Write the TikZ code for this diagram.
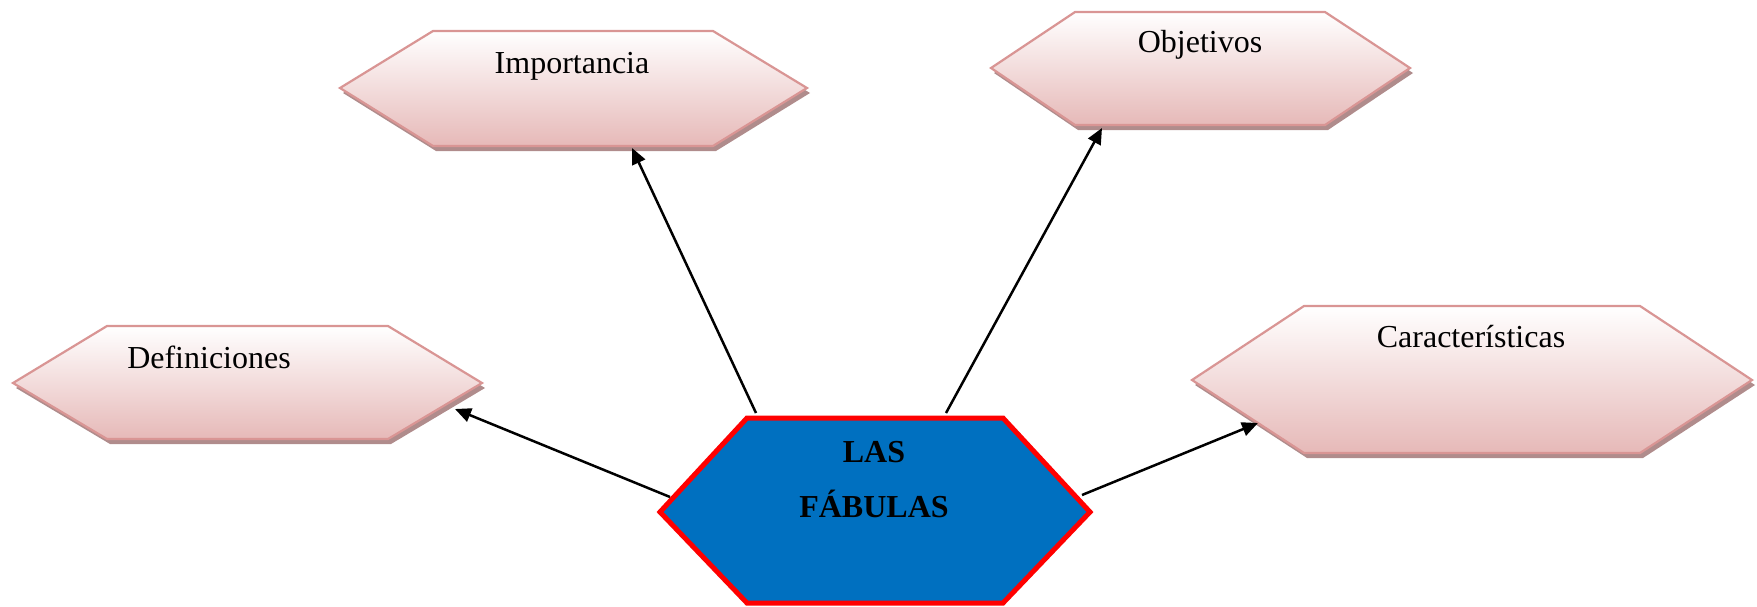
\documentclass[tikz,border=0pt]{standalone}
\usepackage{fontspec}
\setmainfont{Liberation Serif}
\usetikzlibrary{arrows.meta, shadows}

\definecolor{hexline}{RGB}{217,149,148}
\definecolor{hexpink}{RGB}{230,185,184}
\definecolor{hexshadow}{RGB}{176,140,140}
\definecolor{fabblue}{RGB}{0,112,192}

\begin{document}
\begin{tikzpicture}[x=1pt, y=-1pt]
	\tikzset{
		hexa/.style = {draw=hexline, line width=2.2pt, top color=white, bottom color=hexpink,
			drop shadow={shadow xshift=3pt, shadow yshift=-5pt, fill=hexshadow, opacity=1}},
		main hexa/.style = {draw=red, line width=5pt, fill=fabblue},
		topic/.style = {anchor=base, inner sep=0pt, font=\fontsize{32}{38}\selectfont},
		title/.style = {anchor=base, inner sep=0pt, font=\fontsize{32}{38}\selectfont\bfseries},
		link/.style = {black, line width=2.5pt, -{Triangle[length=16pt, width=14pt]}}
	}
	\useasboundingbox (0, 0) rectangle (1757, 606);
	% the five hexagons
	\draw[hexa] (13, 383) -- (107, 326) -- (388, 326) -- (482, 383) -- (388, 439) -- (107, 439) -- cycle;
	\draw[hexa] (340, 88) -- (433, 31) -- (713, 31) -- (807, 88) -- (713, 146) -- (433, 146) -- cycle;
	\draw[hexa] (991, 68) -- (1075, 12) -- (1325, 12) -- (1410, 68) -- (1325, 125) -- (1075, 125) -- cycle;
	\draw[hexa] (1192, 380) -- (1304, 306) -- (1640, 306) -- (1752, 380) -- (1640, 453) -- (1304, 453) -- cycle;
	\draw[main hexa] (660, 512) -- (747, 418) -- (1003, 418) -- (1090, 512) -- (1003, 603) -- (747, 603) -- cycle;
	% texts
	\path
	(209, 368) node[topic] (def) {Definiciones}
	(572, 73) node[topic] (imp) {Importancia}
	(1200, 52) node[topic] (obj) {Objetivos}
	(1471, 347) node[topic] (car) {Características}
	(874, 462) node[title] (las) {LAS}
	(874, 517) node[title] (fab) {FÁBULAS}
	;
	% arrow ends
	\coordinate (fab w) at (670, 497);
	\coordinate (fab nw) at (756, 413);
	\coordinate (fab ne) at (946, 413);
	\coordinate (fab e) at (1082, 495);
	\coordinate (def in) at (455, 409);
	\coordinate (imp in) at (632, 148);
	\coordinate (obj in) at (1102, 128);
	\coordinate (car in) at (1258, 423);
	\draw[link] (fab w) -- (def in);
	\draw[link] (fab nw) -- (imp in);
	\draw[link] (fab ne) -- (obj in);
	\draw[link] (fab e) -- (car in);
\end{tikzpicture}
\end{document}
